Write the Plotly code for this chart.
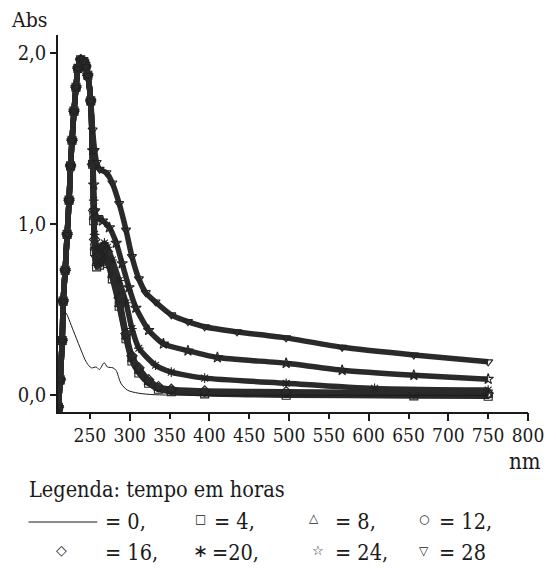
import plotly.graph_objects as go

# ---------------- data ----------------
hours = [0, 4, 8, 12, 16, 20, 24, 28]

# t = 0 h  (thin line)
nm_0 = [216, 219, 229, 237.5, 246, 252, 258, 262, 268, 272, 279, 283, 289, 297, 311, 332, 400, 500, 600, 750]
abs_0 = [0.47, 0.485, 0.38, 0.28, 0.19, 0.16, 0.165, 0.15, 0.19, 0.165, 0.16, 0.145, 0.07, 0.03, 0.012, 0.003, 0.0, 0.0, 0.0, 0.0]

# rising edge / main peak shared by all irradiated samples
nm_peak = [210.5, 212.8, 215.3, 216.5, 219.0, 221.5, 223.9, 225.8, 227.6, 230.1, 232.6, 235.0, 238.5, 242.4, 244.9, 247.4, 251.1]
abs_peak = [-0.07, 0.09, 0.32, 0.55, 0.73, 0.94, 1.14, 1.34, 1.49, 1.66, 1.80, 1.91, 1.96, 1.95, 1.92, 1.87, 1.72]

# tails after the main peak
nm_low = [253.5, 254.8, 256.0, 258.5, 262.2, 267.1, 272.0, 278.2, 286.8, 295.4, 302.8, 311.5, 323.8, 336.1, 352.2, 394.1, 496.4, 656.7, 750]
abs_4 = [1.35, 1.02, 0.84, 0.75, 0.76, 0.78, 0.77, 0.68, 0.52, 0.33, 0.20, 0.13, 0.07, 0.035, 0.02, 0.008, 0.0, -0.004, -0.006]
abs_8 = [1.35, 1.04, 0.86, 0.77, 0.78, 0.80, 0.79, 0.70, 0.53, 0.34, 0.21, 0.14, 0.075, 0.04, 0.025, 0.012, 0.006, 0.003, 0.0]
abs_12 = [1.35, 1.06, 0.88, 0.79, 0.80, 0.83, 0.82, 0.72, 0.55, 0.35, 0.22, 0.15, 0.08, 0.045, 0.03, 0.018, 0.012, 0.008, 0.006]
abs_16 = [1.35, 1.08, 0.91, 0.81, 0.82, 0.85, 0.84, 0.74, 0.57, 0.36, 0.23, 0.16, 0.09, 0.05, 0.035, 0.025, 0.02, 0.015, 0.012]

nm_20 = [253.5, 254.8, 256.0, 258.5, 262.2, 268.3, 272.0, 278.2, 286.8, 295.4, 302.8, 311.5, 332.4, 352.2, 394.1, 496.4, 607.4, 750]
abs_20 = [1.37, 1.14, 0.94, 0.86, 0.86, 0.89, 0.865, 0.79, 0.67, 0.54, 0.39, 0.275, 0.175, 0.135, 0.10, 0.07, 0.04, 0.03]

nm_24 = [253.5, 254.8, 256.0, 258.5, 265.9, 274.5, 283.1, 290.5, 299.1, 307.8, 323.8, 342.3, 373.1, 410.1, 496.4, 566.7, 656.7, 750]
abs_24 = [1.43, 1.23, 1.08, 1.04, 1.02, 0.98, 0.89, 0.77, 0.63, 0.51, 0.38, 0.30, 0.26, 0.22, 0.187, 0.146, 0.117, 0.094]

nm_28 = [253.5, 256.0, 258.5, 262.2, 270.8, 278.2, 286.8, 295.4, 302.8, 311.5, 320.1, 332.4, 352.2, 373.1, 394.1, 434.8, 496.4, 566.7, 656.7, 750]
abs_28 = [1.55, 1.43, 1.36, 1.32, 1.30, 1.24, 1.12, 0.965, 0.81, 0.68, 0.60, 0.545, 0.47, 0.43, 0.40, 0.37, 0.335, 0.28, 0.235, 0.195]

symbols = {4: "square-open", 8: "triangle-up-open", 12: "circle-open", 16: "diamond-open",
           20: "asterisk-open", 24: "star-open", 28: "triangle-down-open"}

x_ticks = [250, 300, 350, 400, 450, 500, 550, 600, 650, 700, 750, 800]
x_major = [300, 400, 500, 600, 700, 800]
y_ticks = [0.0, 1.0, 2.0]
x_range = [210, 800]
y_range = [-0.098, 2.105]

series = [
    (4, nm_low, abs_4), (8, nm_low, abs_8), (12, nm_low, abs_12), (16, nm_low, abs_16),
    (20, nm_20, abs_20), (24, nm_24, abs_24), (28, nm_28, abs_28),
]

# ---------------- figure ----------------
W, H = 556, 569
L, R, T, B = 58, 20, 35, 157
pw, ph = W - L - R, H - T - B

def px(x):
    return (x - L) / pw

def py(y):
    return (H - B - y) / ph

SERIF = "DejaVu Serif Condensed"
INK = "#1a1a1a"

fig = go.Figure()

fig.add_trace(go.Scatter(x=nm_0, y=abs_0, mode="lines", xaxis="x2",
                         line=dict(color=INK, width=1, shape="spline", smoothing=0.8), showlegend=False))

for h, nms, vals in series:
    fig.add_trace(go.Scatter(
        x=nm_peak + nms, y=abs_peak + vals, mode="lines+markers",
        line=dict(color="#2a2a2a", width=5.5, shape="spline", smoothing=0.6),
        marker=dict(symbol=symbols[h], size=8, color="#222222", line=dict(width=1.1, color="#222222")),
        showlegend=False, name=f"{h} h"))

fig.update_layout(
    width=W, height=H, margin=dict(l=L, r=R, t=T, b=B, pad=0),
    paper_bgcolor="white", plot_bgcolor="white",
    separators=",.",
    font=dict(family=SERIF, color=INK, size=19),
    xaxis=dict(range=x_range, tickmode="array", tickvals=x_ticks, ticks="outside", ticklen=5,
               tickwidth=1.5, tickcolor=INK, showline=True, linecolor=INK, linewidth=1.5,
               showgrid=False, zeroline=False, tickfont=dict(family=SERIF, size=19)),
    xaxis2=dict(range=x_range, overlaying="x", anchor="y", side="bottom", tickmode="array",
                tickvals=x_major, ticks="outside", ticklen=8, tickwidth=1.5, tickcolor=INK,
                showticklabels=False, showline=False, showgrid=False, zeroline=False),
    yaxis=dict(range=y_range, tickmode="array", tickvals=y_ticks, tickformat=".1f",
               ticks="outside", ticklen=6, tickwidth=1.5, tickcolor=INK, showline=True,
               linecolor=INK, linewidth=1.5, showgrid=False, zeroline=False,
               tickfont=dict(family=SERIF, size=20)),
)

def text(s, x, y, size=21.5, xanchor="left", family=SERIF):
    fig.add_annotation(text=s, x=px(x), y=py(y), xref="paper", yref="paper",
                       xanchor=xanchor, yanchor="middle", showarrow=False,
                       font=dict(family=family, size=size, color=INK))

text("Abs", 8, 20, size=21)
text("nm", 551, 461, size=22, xanchor="right")
text("Legenda: tempo em horas", 26, 489, size=21.5)

row1, row2 = 521, 552
SYM = "DejaVu Sans"
fig.add_shape(type="line", xref="paper", yref="paper", x0=px(28), x1=px(98), y0=py(row1 + 1), y1=py(row1 + 1),
              line=dict(color=INK, width=1))
text("= 0,", 104, row1)
text("\u25a1", 203, row1 - 2, size=12, xanchor="center", family=SYM)
text("= 4,", 215, row1)
text("\u25b3", 318, row1 - 3, size=12, xanchor="center", family=SYM)
text("= 8,", 338, row1)
text("\u25cb", 430, row1 - 2, size=12, xanchor="center", family=SYM)
text("= 12,", 443, row1)

text("\u25c7", 62, row2 - 2, size=14, xanchor="center", family=SYM)
text("= 16,", 104, row2)
text("\u2217", 203, row2 - 2, size=18, xanchor="center", family=SYM)
text("=20,", 213, row2)
text("\u2606", 322, row2 - 2, size=13, xanchor="center", family=SYM)
text("= 24,", 338, row2)
text("\u25bd", 430, row2 - 1, size=12, xanchor="center", family=SYM)
text("= 28", 443, row2)

fig.write_html("out.html")
